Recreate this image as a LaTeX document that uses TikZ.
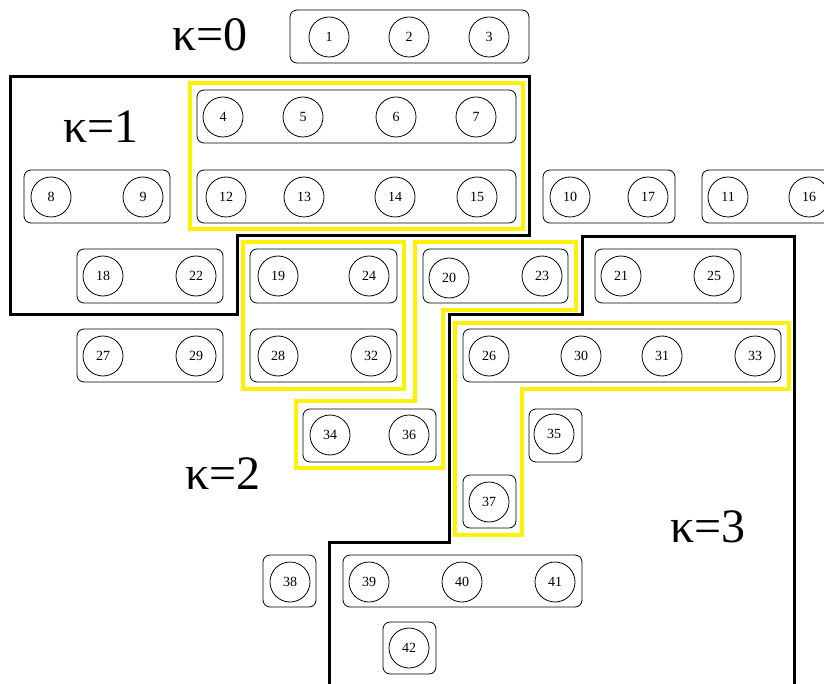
\documentclass[tikz,border=0pt]{standalone}
\usepackage{fontspec}
\setmainfont{Liberation Serif}
\tikzset{
	vtx/.style={draw, circle, minimum size=40pt, inner sep=0pt, line width=0.8pt, font=\fontsize{14}{14}\selectfont},
	grp/.style={draw, rounded corners=7pt, line width=0.8pt},
	hilite/.style={draw=yellow, line width=3.5pt},
	part/.style={draw=black, line width=3pt},
	klabel/.style={font=\fontsize{48}{48}\selectfont}
}
\begin{document}
\begin{tikzpicture}[x=1pt, y=-1pt]
			%%%%% START %%%%%
			\useasboundingbox (0, 0) rectangle (824, 684);
			
			\draw[part] (10, 77) -- (529, 77) -- (529, 236) -- (237, 236) -- (237, 315) -- (10, 315) -- cycle;
			\draw[part] (329, 690) -- (329, 542) -- (449, 542) -- (449, 315) -- (582, 315) -- (582, 237) -- (794, 237) -- (794, 690);
			
			\draw[hilite] (190, 83) rectangle (523, 229);
			\draw[hilite] (243, 242) rectangle (404, 389);
			\draw[hilite] (415, 242) -- (576, 242) -- (576, 310) -- (443, 310) -- (443, 468) -- (296, 468) -- (296, 401) -- (415, 401) -- cycle;
			\draw[hilite] (455, 323) -- (789, 323) -- (789, 389) -- (522, 389) -- (522, 535) -- (455, 535) -- cycle;
			
			\node[klabel] (k0) at (210, 35) {κ=0};
			\node[klabel] (k1) at (101, 127) {κ=1};
			\node[klabel] (k2) at (223, 474) {κ=2};
			\node[klabel] (k3) at (708, 527) {κ=3};
			
			\draw[grp] (290, 10) rectangle (529, 63);
			\node[vtx] (n1) at (329, 37) {1};
			\node[vtx] (n2) at (409, 37) {2};
			\node[vtx] (n3) at (489, 37) {3};
			
			\draw[grp] (197, 90) rectangle (516, 143);
			\node[vtx] (n4) at (223, 117) {4};
			\node[vtx] (n5) at (303, 117) {5};
			\node[vtx] (n6) at (396, 117) {6};
			\node[vtx] (n7) at (476, 117) {7};
			
			\draw[grp] (24, 170) rectangle (170, 223);
			\node[vtx] (n8) at (51, 197) {8};
			\node[vtx] (n9) at (143, 197) {9};
			
			\draw[grp] (197, 170) rectangle (516, 223);
			\node[vtx] (n12) at (226, 197) {12};
			\node[vtx] (n13) at (304, 197) {13};
			\node[vtx] (n14) at (395, 197) {14};
			\node[vtx] (n15) at (477, 197) {15};
			
			\draw[grp] (543, 170) rectangle (675, 223);
			\node[vtx] (n10) at (570, 197) {10};
			\node[vtx] (n17) at (648, 197) {17};
			
			\draw[grp] (702, 170) rectangle (836, 223);
			\node[vtx] (n11) at (728, 197) {11};
			\node[vtx] (n16) at (809, 197) {16};
			
			\draw[grp] (77, 249) rectangle (223, 303);
			\node[vtx] (n18) at (103, 276) {18};
			\node[vtx] (n22) at (196, 276) {22};
			
			\draw[grp] (250, 249) rectangle (397, 303);
			\node[vtx] (n19) at (278, 276) {19};
			\node[vtx] (n24) at (369, 276) {24};
			
			\draw[grp] (423, 249) rectangle (568, 303);
			\node[vtx] (n20) at (449, 278) {20};
			\node[vtx] (n23) at (542, 276) {23};
			
			\draw[grp] (595, 249) rectangle (741, 303);
			\node[vtx] (n21) at (621, 276) {21};
			\node[vtx] (n25) at (714, 276) {25};
			
			\draw[grp] (77, 329) rectangle (223, 382);
			\node[vtx] (n27) at (103, 356) {27};
			\node[vtx] (n29) at (196, 356) {29};
			
			\draw[grp] (250, 329) rectangle (397, 382);
			\node[vtx] (n28) at (278, 356) {28};
			\node[vtx] (n32) at (371, 356) {32};
			
			\draw[grp] (463, 329) rectangle (781, 382);
			\node[vtx] (n26) at (489, 356) {26};
			\node[vtx] (n30) at (581, 356) {30};
			\node[vtx] (n31) at (662, 356) {31};
			\node[vtx] (n33) at (755, 356) {33};
			
			\draw[grp] (303, 409) rectangle (436, 462);
			\node[vtx] (n34) at (330, 435) {34};
			\node[vtx] (n36) at (409, 435) {36};
			
			\draw[grp] (529, 409) rectangle (582, 462);
			\node[vtx] (n35) at (554, 434) {35};
			
			\draw[grp] (463, 475) rectangle (516, 528);
			\node[vtx] (n37) at (489, 502) {37};
			
			\draw[grp] (263, 555) rectangle (316, 607);
			\node[vtx] (n38) at (290, 582) {38};
			
			\draw[grp] (343, 555) rectangle (582, 607);
			\node[vtx] (n39) at (369, 582) {39};
			\node[vtx] (n40) at (462, 582) {40};
			\node[vtx] (n41) at (555, 582) {41};
			
			\draw[grp] (383, 622) rectangle (436, 674);
			\node[vtx] (n42) at (409, 648) {42};
			%%%%% END %%%%%
\end{tikzpicture}
\end{document}
